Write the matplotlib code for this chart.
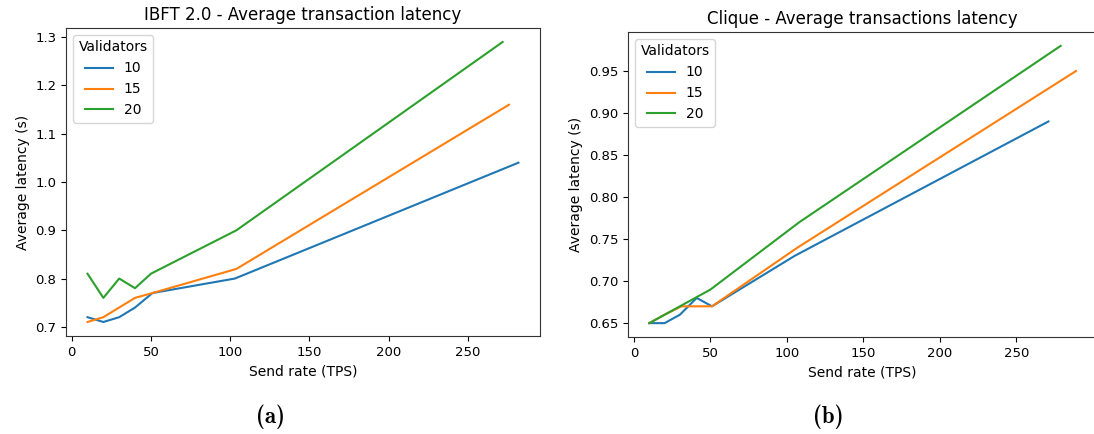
import os
import matplotlib
matplotlib.use('Agg')
import matplotlib.pyplot as plt
from matplotlib import font_manager as fm

# IBFT 2.0 - send rate (TPS) and average latency (s) per validator count
ibft_x_10 = [10, 20, 30, 40, 51, 103, 282]
ibft_y_10 = [0.72, 0.71, 0.72, 0.74, 0.77, 0.80, 1.04]
ibft_x_15 = [10, 20, 30, 40, 51, 104, 276]
ibft_y_15 = [0.71, 0.72, 0.74, 0.76, 0.77, 0.82, 1.16]
ibft_x_20 = [10, 20, 30, 40, 50, 104, 272]
ibft_y_20 = [0.81, 0.76, 0.80, 0.78, 0.81, 0.90, 1.29]

# Clique
clique_x_10 = [10, 20, 30, 41, 51, 105, 271]
clique_y_10 = [0.65, 0.65, 0.66, 0.68, 0.67, 0.73, 0.89]
clique_x_15 = [10, 20, 31, 40, 51, 107, 289]
clique_y_15 = [0.65, 0.66, 0.67, 0.67, 0.67, 0.74, 0.95]
clique_x_20 = [10, 20, 30, 40, 50, 108, 279]
clique_y_20 = [0.65, 0.66, 0.67, 0.68, 0.69, 0.77, 0.98]

validators = ['10', '15', '20']
colors = ['#1f77b4', '#ff7f0e', '#2ca02c']

# computer modern bold for the sub-figure captions (ships with matplotlib)
cmb = fm.FontProperties(fname=os.path.join(matplotlib.get_data_path(), 'fonts', 'ttf', 'cmb10.ttf'), size=16.5)

fig = plt.figure(figsize=(10.94, 4.34), dpi=100)
ax1 = fig.add_axes([0.0603, 0.2258, 0.4333, 0.7097])
ax2 = fig.add_axes([0.574, 0.2235, 0.4290, 0.7028])

ibft = [(ibft_x_10, ibft_y_10), (ibft_x_15, ibft_y_15), (ibft_x_20, ibft_y_20)]
clique = [(clique_x_10, clique_y_10), (clique_x_15, clique_y_15), (clique_x_20, clique_y_20)]

for ax, series, title in [(ax1, ibft, 'IBFT 2.0 - Average transaction latency'),
                          (ax2, clique, 'Clique - Average transactions latency')]:
    for (xs, ys), lab, c in zip(series, validators, colors):
        ax.plot(xs, ys, color=c, lw=1.5, label=lab)
    ax.set_title(title, fontsize=12)
    ax.set_xlabel('Send rate (TPS)', fontsize=10)
    ax.set_ylabel('Average latency (s)', fontsize=10)
    ax.tick_params(labelsize=9.5)
    ax.set_xticks([0, 50, 100, 150, 200, 250])
    ax.legend(title='Validators', loc='upper left', fontsize=10, title_fontsize=10)
    for s in ax.spines.values():
        s.set_color('#333333')

ax1.set_yticks([0.7, 0.8, 0.9, 1.0, 1.1, 1.2, 1.3])
ax2.set_yticks([0.65, 0.70, 0.75, 0.80, 0.85, 0.90, 0.95])
ax2.set_yticklabels(['%.2f' % v for v in [0.65, 0.70, 0.75, 0.80, 0.85, 0.90, 0.95]])

fig.text(271 / 1094, 1 - 417 / 434, '(a)', ha='center', va='center', fontproperties=cmb)
fig.text(828 / 1094, 1 - 417 / 434, '(b)', ha='center', va='center', fontproperties=cmb)

fig.savefig('out.png', dpi=100)
